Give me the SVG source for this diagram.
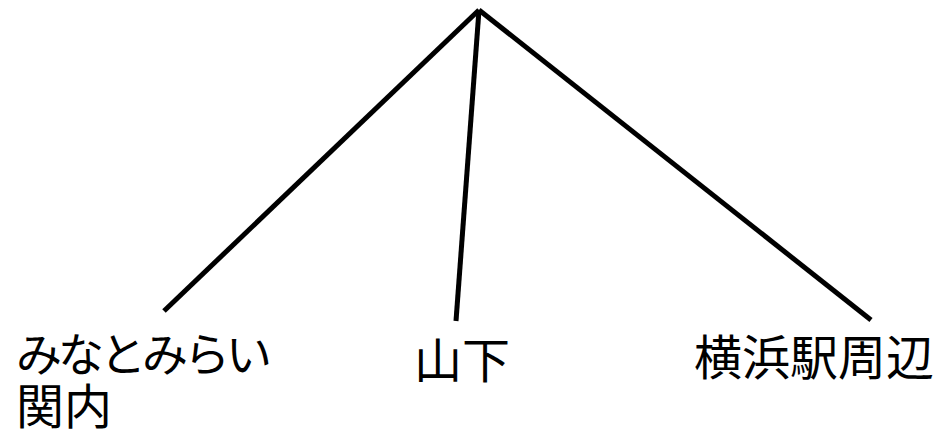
<svg xmlns="http://www.w3.org/2000/svg" width="936" height="432" viewBox="0 0 936 432">
<style>
.c{stroke:#000;stroke-width:5;fill:none}
.t{font-family:"Liberation Sans","Noto Sans CJK JP",sans-serif;font-size:48px;fill:#000}
.k{font-size:46px;letter-spacing:-4px}
</style>
<rect width="936" height="432" fill="#fff"/>
<g id="connectors">
<line class="c" x1="479" y1="10" x2="164" y2="311"/>
<line class="c" x1="479" y1="10" x2="456" y2="321"/>
<line class="c" x1="479" y1="10" x2="871" y2="320"/>
</g>
<g id="n1"><text class="t k" x="16" y="371">みなとみらい</text><text class="t" x="16" y="424">関内</text></g>
<g id="n2"><text class="t" x="414" y="378">山下</text></g>
<g id="n3"><text class="t" x="694" y="375">横浜駅周辺</text></g>
</svg>
